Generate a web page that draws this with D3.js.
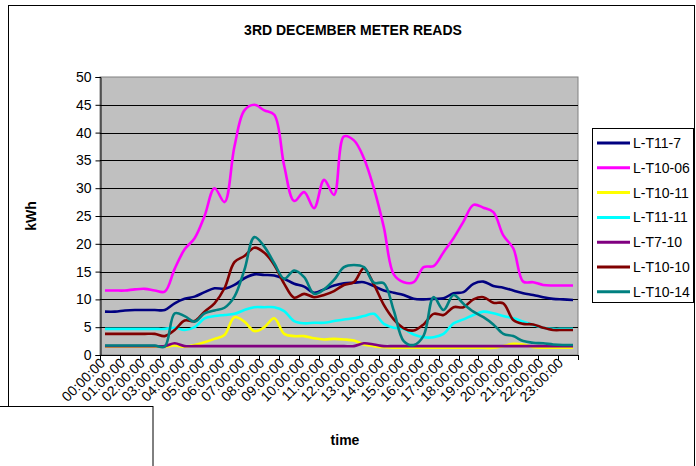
<!DOCTYPE html>
<html><head><meta charset="utf-8">
<script src="https://cdn.jsdelivr.net/npm/d3@7/dist/d3.min.js"></script>
<style>
html,body{margin:0;padding:0;background:#fff;}
svg{display:block;font-family:"Liberation Sans",Arial,sans-serif;}
</style></head>
<body>
<svg id="chart" width="696" height="466"></svg>
<script>
// half-hour categories
const categories = [];
for (let h = 0; h < 24; h++) {
  const hh = String(h).padStart(2, "0");
  categories.push(hh + ":00:00", hh + ":30:00");
}
const hourLabels = ["00:00:00","01:00:00","02:00:00","03:00:00","04:00:00","05:00:00","06:00:00","07:00:00","08:00:00","09:00:00","10:00:00","11:00:00","12:00:00","13:00:00","14:00:00","15:00:00","16:00:00","17:00:00","18:00:00","19:00:00","20:00:00","21:00:00","22:00:00","23:00:00"];
const yTicks = [0,5,10,15,20,25,30,35,40,45,50];

const seriesNames = ["L-T11-7","L-T10-06","L-T10-11","L-T11-11","L-T7-10","L-T10-10","L-T10-14"];
const seriesColors = ["#000080","#FF00FF","#FFFF00","#00FFFF","#800080","#800000","#008080"];

const LT11_7 = [7.8,7.8,8.0,8.1,8.1,8.1,8.1,9.3,10.1,10.5,11.3,12.0,11.9,12.6,13.8,14.5,14.4,14.3,13.7,12.8,12.3,11.2,11.8,12.5,12.9,13.0,13.1,12.4,11.6,11.2,10.8,10.1,10.0,10.1,10.2,11.1,11.3,12.8,13.2,12.4,12.1,11.6,11.1,10.8,10.4,10.1,10.0,9.9];
const LT10_06 = [11.6,11.6,11.6,11.8,11.9,11.6,11.4,15.5,19.0,21.0,25.0,30.0,27.5,37.5,44.0,45.0,44.0,43.2,34.0,27.7,29.3,26.4,31.5,28.8,39.3,38.6,35.4,30.0,23.0,14.5,13.1,13.1,15.8,16.0,18.5,21.0,24.0,27.0,26.5,25.7,21.5,19.2,13.2,13.1,12.6,12.5,12.5,12.5];
const LT10_11 = [1.5,1.5,1.5,1.5,1.5,1.5,1.5,1.7,1.5,1.8,2.3,2.9,3.6,6.8,6.0,4.3,5.0,6.6,3.8,3.4,3.4,3.0,2.8,2.9,2.8,2.6,1.9,1.6,1.4,1.3,1.3,1.3,1.3,1.3,1.3,1.3,1.3,1.3,1.3,1.3,1.6,2.0,1.9,1.4,1.3,1.3,1.3,1.3];
const LT11_11 = [4.7,4.7,4.7,4.7,4.7,4.7,4.7,4.9,4.5,5.0,6.6,7.0,7.2,7.4,8.1,8.6,8.6,8.6,7.9,6.1,5.7,5.8,5.8,6.1,6.4,6.6,7.0,7.4,5.6,4.9,4.7,3.7,3.2,3.2,3.8,5.7,6.4,7.2,7.8,7.5,7.0,6.6,6.0,5.4,4.9,4.7,4.7,4.7];
const LT7_10 = [1.6,1.6,1.6,1.6,1.6,1.6,1.6,2.1,1.6,1.6,1.6,1.6,1.6,1.6,1.6,1.6,1.6,1.6,1.6,1.6,1.6,1.6,1.6,1.6,1.6,1.6,2.1,1.9,1.6,1.6,1.6,1.6,1.6,1.6,1.6,1.6,1.6,1.6,1.6,1.6,1.6,1.6,1.6,1.6,1.6,1.6,1.6,1.6];
const LT10_10 = [3.8,3.8,3.8,3.8,3.8,3.8,3.4,4.5,6.2,6.1,7.8,9.3,12.0,16.7,17.8,19.3,18.4,16.2,12.8,10.3,11.0,10.4,10.8,11.5,12.6,13.1,15.6,12.7,9.0,6.4,4.8,4.4,5.5,7.4,7.2,8.6,8.6,10.0,10.4,9.4,9.3,6.3,5.6,5.5,4.9,4.5,4.5,4.5];
const LT10_14 = [1.7,1.7,1.7,1.7,1.7,1.7,1.5,7.5,7.0,6.0,7.5,8.0,8.5,10.5,15.3,21.2,19.5,16.5,13.7,15.2,14.0,11.0,11.8,13.5,15.8,16.2,15.8,13.0,12.9,8.0,2.5,1.8,3.5,10.4,8.1,10.8,9.2,7.8,6.8,5.5,3.8,3.4,2.5,2.2,2.1,1.9,1.8,1.8];

const seriesValues = [LT11_7, LT10_06, LT10_11, LT11_11, LT7_10, LT10_10, LT10_14];

const svg = d3.select("#chart");
const plot = {left: 100, right: 578, top: 77, bottom: 355};

// outer chart frame
svg.append("rect").attr("x", 8.5).attr("y", 5.5).attr("width", 686).attr("height", 470)
  .attr("fill", "#fff").attr("stroke", "#000").attr("stroke-width", 1);

const x = d3.scaleBand().domain(categories).range([plot.left, plot.right]).paddingInner(0).paddingOuter(0);
const y = d3.scaleLinear().domain([0, 50]).range([plot.bottom, plot.top]);

// plot background
svg.append("rect").attr("x", plot.left).attr("y", plot.top)
  .attr("width", plot.right - plot.left).attr("height", plot.bottom - plot.top)
  .attr("fill", "#C0C0C0").attr("stroke", "#808080").attr("stroke-width", 1);

// gridlines
svg.append("g").selectAll("line").data(yTicks.filter(d => d > 0 && d < 50)).join("line")
  .attr("x1", plot.left).attr("x2", plot.right)
  .attr("y1", d => Math.round(y(d)) + 0.5).attr("y2", d => Math.round(y(d)) + 0.5)
  .attr("stroke", "#000").attr("stroke-width", 1);

// y axis
const yAxis = d3.axisLeft(y).tickValues(yTicks).tickSize(5).tickPadding(4);
const yg = svg.append("g").attr("transform", `translate(${plot.left + 0.5},0)`).call(yAxis);
yg.select(".domain").attr("stroke", "#000");
yg.selectAll(".tick line").attr("stroke", "#000");
yg.selectAll(".tick text").attr("font-size", 14).attr("fill", "#000").attr("font-family", "Liberation Sans, Arial, sans-serif");

// x axis line
svg.append("line").attr("x1", plot.left).attr("x2", plot.right + 0.5)
  .attr("y1", plot.bottom + 0.5).attr("y2", plot.bottom + 0.5).attr("stroke", "#000");
// x tick marks at hour boundaries
const tickPos = hourLabels.map((d, i) => x(categories[2 * i])).concat([plot.right]);
svg.append("g").selectAll("line").data(tickPos).join("line")
  .attr("x1", d => Math.round(d) + 0.5).attr("x2", d => Math.round(d) + 0.5)
  .attr("y1", plot.bottom).attr("y2", plot.bottom + 5).attr("stroke", "#000");
// x tick labels
svg.append("g").selectAll("text").data(hourLabels).join("text")
  .attr("transform", (d, i) => {
    const cx = x(categories[2 * i]) + x.bandwidth() / 2 + 1;
    return `translate(${cx},${plot.bottom + 9}) rotate(-45)`;
  })
  .attr("text-anchor", "end").attr("font-size", 14).attr("fill", "#000")
  .text(d => d);

// lines
const line = d3.line()
  .x((d, i) => x(categories[i]) + x.bandwidth() / 2)
  .y(d => y(d))
  .curve(d3.curveCatmullRom.alpha(0.5));
svg.append("g").selectAll("path").data(seriesValues).join("path")
  .attr("d", d => line(d)).attr("fill", "none")
  .attr("stroke", (d, i) => seriesColors[i]).attr("stroke-width", 2.6)
  .attr("stroke-linejoin", "round");

// title
svg.append("text").attr("x", 353).attr("y", 35).attr("text-anchor", "middle")
  .attr("font-size", 14).attr("font-weight", "bold").text("3RD DECEMBER METER READS");
// axis titles
svg.append("text").attr("transform", "translate(36,216) rotate(-90)").attr("text-anchor", "middle")
  .attr("font-size", 14).attr("font-weight", "bold").text("kWh");
svg.append("text").attr("x", 345).attr("y", 445).attr("text-anchor", "middle")
  .attr("font-size", 14).attr("font-weight", "bold").text("time");

// legend
const lg = svg.append("g");
lg.append("rect").attr("x", 592.5).attr("y", 128.5).attr("width", 101).attr("height", 174)
  .attr("fill", "#fff").attr("stroke", "#000");
const items = lg.selectAll("g.item").data(seriesNames).join("g").attr("class", "item")
  .attr("transform", (d, i) => `translate(0,${143 + i * 24.8})`);
items.append("line").attr("x1", 597).attr("x2", 630).attr("y1", 0).attr("y2", 0)
  .attr("stroke", (d, i) => seriesColors[i]).attr("stroke-width", 3);
items.append("text").attr("x", 633).attr("y", 5).attr("font-size", 14).text(d => d);

// white overlay box at bottom-left
svg.append("rect").attr("x", -2).attr("y", 406.5).attr("width", 155).attr("height", 80)
  .attr("fill", "#fff").attr("stroke", "#000").attr("stroke-width", 1);
</script>
</body></html>
